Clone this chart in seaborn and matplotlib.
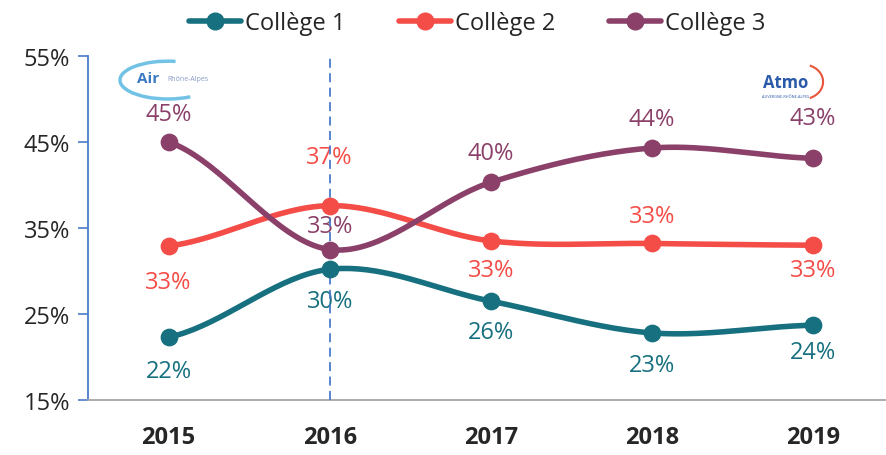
import numpy as np
import pandas as pd
import matplotlib
matplotlib.use("Agg")
import matplotlib.pyplot as plt
import seaborn as sns
from matplotlib.patches import Arc

years = ["2015", "2016", "2017", "2018", "2019"]
college1 = [22.3, 30.2, 26.5, 22.8, 23.7]
college2 = [32.9, 37.6, 33.5, 33.2, 33.0]
college3 = [45.0, 32.5, 40.3, 44.3, 43.1]
labels1 = ["22%", "30%", "26%", "23%", "24%"]
labels2 = ["33%", "37%", "33%", "33%", "33%"]
labels3 = ["45%", "33%", "40%", "44%", "43%"]
series = ["Collège 1", "Collège 2", "Collège 3"]
colors = ["#17707f", "#f44d48", "#8a4068"]

# label offsets in points (above = +, below = -)
offs1 = [-24, -23, -22, -23, -19]
offs2 = [-26, 35, -21, 20, -18]
offs3 = [20, 17, 21, 21, 29]

sns.set_style("white")
plt.rcParams["font.family"] = ["Open Sans", "DejaVu Sans"]


def smooth(y, n=40):
    # Catmull-Rom style smoothing like spreadsheet "smoothed line"
    x = np.arange(len(y), dtype=float)
    y = np.asarray(y, dtype=float)
    px = np.concatenate([[2 * x[0] - x[1]], x, [2 * x[-1] - x[-2]]])
    py = np.concatenate([[y[0]], y, [y[-1]]])
    xs, ys = [], []
    for i in range(1, len(px) - 2):
        p0, p1, p2, p3 = (np.array([px[j], py[j]]) for j in range(i - 1, i + 3))
        c1 = p1 + (p2 - p0) / 6
        c2 = p2 - (p3 - p1) / 6
        t = np.linspace(0, 1, n)[:, None]
        pts = (1 - t) ** 3 * p1 + 3 * (1 - t) ** 2 * t * c1 + 3 * (1 - t) * t ** 2 * c2 + t ** 3 * p2
        xs.extend(pts[:, 0]); ys.extend(pts[:, 1])
    return np.array(xs), np.array(ys)


fig = plt.figure(figsize=(8.87, 4.56), dpi=100)
ax = fig.add_axes([88 / 887, 55 / 456, 799 / 887, 344 / 456])

values = [college1, college2, college3]
labels = [labels1, labels2, labels3]
offsets = [offs1, offs2, offs3]
for name, vals, col, labs, offs in zip(series, values, colors, labels, offsets):
    sx, sy = smooth(vals)
    sns.lineplot(x=sx, y=sy, sort=False, color=col, lw=4, ax=ax, zorder=3)
    sns.scatterplot(x=np.arange(len(vals)), y=vals, color=col, s=140,
                    edgecolor=col, ax=ax, zorder=4)
    for i, (v, lab, o) in enumerate(zip(vals, labs, offs)):
        ax.annotate(lab, (i, v), xytext=(0, o), textcoords="offset points",
                    ha="center", va="center", fontsize=17, color=col)
    ax.plot([], [], color=col, lw=4, marker="o", ms=12, label=name)

ax.axvline(1, color="#4a7cc9", lw=1.3, ls=(0, (5, 3)), zorder=3.5)

ax.set_xlim(-0.5, 4.46)
ax.set_ylim(15, 55)
ax.set_yticks([15, 25, 35, 45, 55])
ax.set_yticklabels(["15%", "25%", "35%", "45%", "55%"], fontsize=17)
ax.set_xticks(range(len(years)))
ax.set_xticklabels(years, fontsize=17, fontweight="bold")
ax.tick_params(axis="x", pad=18, length=0)
ax.tick_params(axis="y", pad=6, length=7, width=1.2, color="#4a7cc9", direction="out", left=True)
for s in ["top", "right"]:
    ax.spines[s].set_visible(False)
ax.spines["left"].set_color("#4a7cc9")
ax.spines["left"].set_linewidth(1.3)
ax.spines["bottom"].set_color("#a6a6a6")
ax.spines["bottom"].set_linewidth(1.3)

ax.legend(loc="center", bbox_to_anchor=(0.487, 1.095), ncol=3, frameon=False,
          fontsize=17, handlelength=2.2, handletextpad=0.15, columnspacing=2.3)

# logo approximations
ax.add_patch(Arc((0.10, 0.93), 0.12, 0.11, theta1=80, theta2=300, transform=ax.transAxes,
                 color="#4fb3e0", lw=2.5, alpha=0.8))
ax.text(0.075, 0.935, "Air", transform=ax.transAxes, fontsize=11, fontweight="bold",
        color="#3a78c2", ha="center", va="center")
ax.text(0.125, 0.935, "Rhône-Alpes", transform=ax.transAxes, fontsize=5,
        color="#8a9cc8", ha="center", va="center")
ax.text(0.873, 0.925, "Atmo", transform=ax.transAxes, fontsize=12, fontweight="bold",
        color="#2a5aa8", ha="center", va="center")
ax.text(0.873, 0.885, "AUVERGNE-RHÔNE-ALPES", transform=ax.transAxes, fontsize=2.8,
        color="#2a5aa8", ha="center", va="center")
ax.add_patch(Arc((0.895, 0.925), 0.05, 0.1, theta1=-80, theta2=80, transform=ax.transAxes,
                 color="#e8543a", lw=1.5))

fig.savefig("out.png", dpi=100)
